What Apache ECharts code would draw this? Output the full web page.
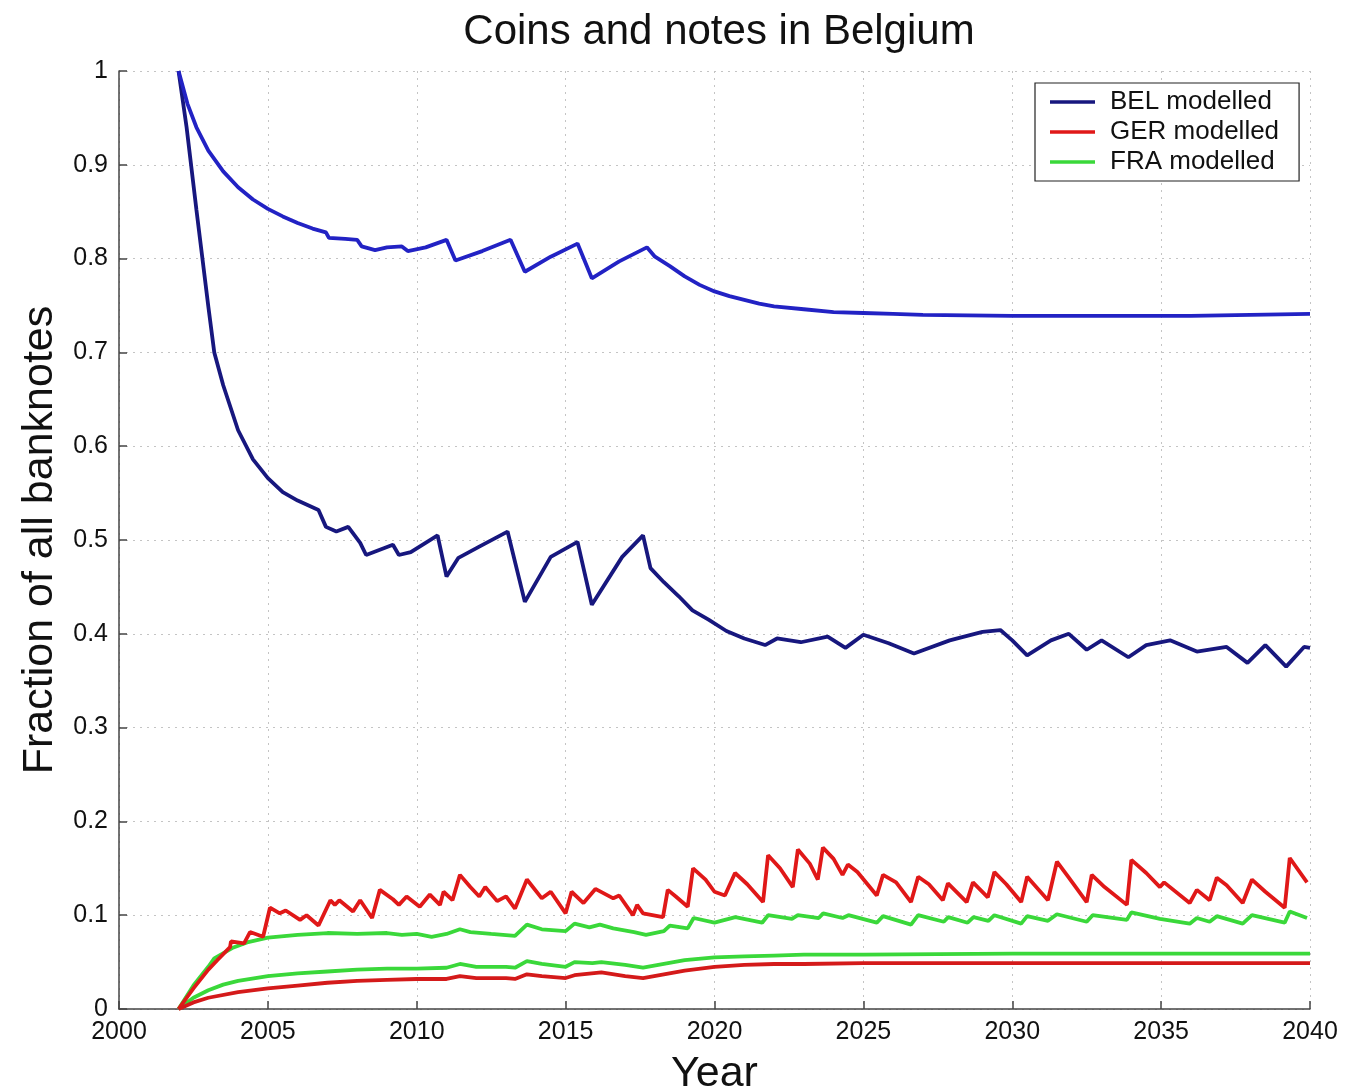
<!DOCTYPE html>
<html>
<head>
<meta charset="utf-8">
<title>Coins and notes in Belgium</title>
<script src="https://cdn.jsdelivr.net/npm/echarts@6/dist/echarts.min.js"></script>
<style>
  html, body { margin: 0; padding: 0; background: #fff; overflow: hidden; }
  #chart { width: 1346px; height: 1091px; }
</style>
</head>
<body>
<div id="chart"></div>
<script>
// Modelled share of each country's notes circulating in Belgium, [year, fraction]
const belUpper = [
  [2002,1.0],[2002.3,0.965],[2002.6,0.94],[2003,0.915],[2003.5,0.893],[2004,0.876],
  [2004.5,0.863],[2005,0.853],[2005.5,0.845],[2006,0.838],[2006.5,0.832],[2006.95,0.828],
  [2007.05,0.822],[2007.6,0.821],[2008.0,0.82],[2008.15,0.813],[2008.6,0.809],[2009.0,0.812],
  [2009.5,0.813],[2009.7,0.808],[2010.3,0.812],[2011.0,0.82],[2011.3,0.798],[2012.2,0.808],
  [2013.15,0.82],[2013.63,0.786],[2014.5,0.802],[2015.4,0.816],[2015.88,0.779],[2016.8,0.797],
  [2017.73,0.812],[2018.0,0.802],[2018.5,0.792],[2019,0.781],[2019.5,0.772],[2020,0.765],
  [2020.5,0.76],[2021,0.756],[2021.5,0.752],[2022,0.749],[2023,0.746],[2024,0.743],
  [2025,0.742],[2026,0.741],[2027,0.74],[2030,0.739],[2033,0.739],[2036,0.739],
  [2038,0.74],[2040,0.741]
];
const belLower = [
  [2002,1.0],[2002.27,0.94],[2002.6,0.852],[2003,0.749],[2003.2,0.70],[2003.5,0.665],
  [2004,0.617],[2004.5,0.586],[2005,0.566],[2005.5,0.551],[2006,0.542],[2006.7,0.532],
  [2006.95,0.514],[2007.3,0.509],[2007.7,0.514],[2008.1,0.497],[2008.3,0.484],[2009.2,0.495],
  [2009.4,0.484],[2009.8,0.487],[2010.7,0.505],[2011.0,0.461],[2011.4,0.481],[2012.1,0.493],
  [2013.05,0.509],[2013.63,0.434],[2014.5,0.482],[2015.4,0.498],[2015.88,0.431],[2016.9,0.482],
  [2017.6,0.505],[2017.85,0.47],[2018.3,0.455],[2018.8,0.44],[2019.26,0.425],[2019.8,0.415],
  [2020.4,0.403],[2021.0,0.395],[2021.7,0.388],[2022.1,0.395],[2022.9,0.391],[2023.8,0.397],
  [2024.4,0.385],[2025.0,0.399],[2025.85,0.39],[2026.7,0.379],[2027.9,0.393],[2029.0,0.402],
  [2029.6,0.404],[2030.0,0.393],[2030.5,0.377],[2031.3,0.393],[2031.9,0.4],[2032.5,0.383],
  [2033.0,0.393],[2033.9,0.375],[2034.5,0.388],[2035.3,0.393],[2036.2,0.381],[2037.2,0.386],
  [2037.9,0.369],[2038.5,0.388],[2039.2,0.365],[2039.8,0.386],[2040,0.385]
];
const gerUpper = [
  [2002,0],[2002.5,0.022],[2003,0.042],[2003.3,0.052],[2003.73,0.066],[2003.76,0.072],
  [2004.2,0.070],[2004.4,0.082],[2004.84,0.077],[2005.07,0.108],[2005.4,0.102],[2005.6,0.105],
  [2006.08,0.095],[2006.3,0.1],[2006.7,0.089],[2007.1,0.116],[2007.25,0.111],[2007.4,0.116],
  [2007.86,0.104],[2008.1,0.116],[2008.5,0.097],[2008.76,0.127],[2009.2,0.117],[2009.4,0.111],
  [2009.66,0.12],[2010.1,0.109],[2010.44,0.122],[2010.78,0.111],[2010.9,0.125],[2011.2,0.116],
  [2011.45,0.143],[2011.8,0.13],[2012.1,0.12],[2012.3,0.13],[2012.7,0.115],[2013.0,0.12],
  [2013.3,0.107],[2013.7,0.138],[2014.2,0.118],[2014.5,0.125],[2015.0,0.102],[2015.2,0.125],
  [2015.6,0.113],[2016.0,0.128],[2016.6,0.118],[2016.8,0.121],[2017.26,0.1],[2017.4,0.111],
  [2017.6,0.102],[2018.27,0.098],[2018.43,0.127],[2018.7,0.12],[2019.1,0.109],[2019.28,0.15],
  [2019.7,0.138],[2020.0,0.125],[2020.35,0.121],[2020.69,0.145],[2021.1,0.133],[2021.63,0.114],
  [2021.8,0.164],[2022.2,0.15],[2022.63,0.13],[2022.8,0.17],[2023.2,0.155],[2023.47,0.138],
  [2023.64,0.172],[2024.0,0.16],[2024.3,0.143],[2024.48,0.154],[2024.8,0.146],[2025.45,0.121],
  [2025.66,0.143],[2026.1,0.135],[2026.6,0.114],[2026.84,0.141],[2027.2,0.133],[2027.67,0.116],
  [2027.84,0.134],[2028.47,0.114],[2028.68,0.135],[2029.18,0.119],[2029.4,0.146],[2029.8,0.133],
  [2030.3,0.114],[2030.5,0.141],[2031.2,0.116],[2031.5,0.157],[2031.9,0.14],[2032.5,0.114],
  [2032.67,0.143],[2033.1,0.13],[2033.85,0.111],[2034.0,0.159],[2034.5,0.145],[2034.96,0.13],
  [2035.1,0.135],[2035.96,0.113],[2036.2,0.127],[2036.63,0.116],[2036.87,0.14],[2037.2,0.132],
  [2037.74,0.113],[2038.05,0.138],[2038.5,0.125],[2039.15,0.108],[2039.32,0.161],[2039.9,0.135]
];
const gerLower = [
  [2002,0],[2002.5,0.007],[2003,0.012],[2004,0.018],[2005,0.022],[2006,0.025],[2007,0.028],
  [2008,0.03],[2009,0.031],[2010,0.032],[2011,0.032],[2011.45,0.035],[2012,0.033],[2013,0.033],
  [2013.3,0.032],[2013.7,0.037],[2014.2,0.035],[2015,0.033],[2015.3,0.036],[2016.2,0.039],
  [2017,0.035],[2017.6,0.033],[2018.3,0.037],[2019,0.041],[2020,0.045],[2021,0.047],
  [2022,0.048],[2023,0.048],[2025,0.049],[2030,0.049],[2035,0.049],[2040,0.049]
];
const fraUpper = [
  [2002,0],[2002.5,0.025],[2003,0.045],[2003.2,0.054],[2003.8,0.065],[2004.3,0.071],[2005,0.076],
  [2006,0.079],[2007,0.081],[2008,0.08],[2009,0.081],[2009.5,0.079],[2010,0.08],[2010.5,0.077],
  [2011,0.08],[2011.45,0.085],[2011.8,0.082],[2012.5,0.08],[2013.3,0.078],[2013.7,0.09],
  [2014.2,0.085],[2015,0.083],[2015.3,0.091],[2015.8,0.087],[2016.15,0.09],[2016.6,0.086],
  [2017.3,0.082],[2017.7,0.079],[2018.3,0.083],[2018.5,0.089],[2019.1,0.086],[2019.3,0.097],
  [2020,0.092],[2020.7,0.098],[2021.6,0.092],[2021.8,0.1],[2022.6,0.096],[2022.8,0.1],
  [2023.5,0.097],[2023.65,0.102],[2024.3,0.097],[2024.5,0.1],[2025.45,0.092],[2025.66,0.099],
  [2026.6,0.09],[2026.84,0.1],[2027.7,0.093],[2027.85,0.098],[2028.5,0.092],[2028.7,0.098],
  [2029.2,0.094],[2029.4,0.1],[2030.3,0.091],[2030.5,0.099],[2031.2,0.094],[2031.5,0.101],
  [2032.5,0.093],[2032.7,0.1],[2033.85,0.095],[2034.0,0.103],[2034.96,0.096],[2035.96,0.091],
  [2036.2,0.097],[2036.63,0.093],[2036.87,0.099],[2037.74,0.091],[2038.05,0.1],[2039.15,0.092],
  [2039.32,0.104],[2039.9,0.097]
];
const fraLower = [
  [2002,0],[2002.5,0.012],[2003,0.02],[2003.5,0.026],[2004,0.03],[2005,0.035],[2006,0.038],
  [2007,0.04],[2008,0.042],[2009,0.043],[2010,0.043],[2011,0.044],[2011.45,0.048],[2012,0.045],
  [2013,0.045],[2013.3,0.044],[2013.7,0.051],[2014.2,0.048],[2015,0.045],[2015.3,0.05],
  [2015.9,0.049],[2016.2,0.05],[2017,0.047],[2017.6,0.044],[2018.3,0.048],[2019,0.052],
  [2020,0.055],[2021,0.056],[2022,0.057],[2023,0.058],[2025,0.058],[2030,0.059],[2035,0.059],
  [2040,0.059]
];

const seriesNames = ['BEL modelled', 'GER modelled', 'FRA modelled'];
const xTicks = { min: 2000, max: 2040, step: 5 };
const yTicks = { min: 0, max: 1, step: 0.1 };

const FONT = '"Liberation Sans", Arial, Helvetica, sans-serif';

function line(name, data, color, width, z) {
  return {
    name: name,
    type: 'line',
    data: data,
    symbol: 'none',
    smooth: false,
    z: z,
    lineStyle: { color: color, width: width },
    itemStyle: { color: color }
  };
}

const chart = echarts.init(document.getElementById('chart'), null, { renderer: 'canvas' });

const gridStyle = { color: '#c4c4c4', width: 1, type: [2, 5] };

chart.setOption({
  backgroundColor: '#ffffff',
  animation: false,
  title: {
    text: 'Coins and notes in Belgium',
    left: 714, top: 6, textAlign: 'center',
    textStyle: { fontFamily: FONT, fontSize: 42, fontWeight: 'normal', color: '#111' }
  },
  legend: {
    data: seriesNames,
    orient: 'vertical',
    left: 1035, top: 83,
    padding: [6, 20, 6, 15],
    itemWidth: 45, itemHeight: 22, itemGap: 4,
    icon: 'path://M0,0 L45,0 L45,3.5 L0,3.5 Z',
    backgroundColor: '#fff',
    borderColor: '#222', borderWidth: 1.2,
    textStyle: { fontFamily: FONT, fontSize: 26, lineHeight: 22, color: '#111', padding: [0, 0, 0, 10] }
  },
  grid: { left: 119, right: 36, top: 71, bottom: 82, containLabel: false, outerBoundsMode: 'none' },
  xAxis: {
    type: 'value',
    min: xTicks.min, max: xTicks.max, interval: xTicks.step,
    name: 'Year', nameLocation: 'middle', nameGap: 44,
    nameTextStyle: { fontFamily: FONT, fontSize: 43, color: '#111' },
    axisLine: { show: true, lineStyle: { color: '#444', width: 1.5 } },
    axisTick: { show: true, inside: true, length: 8, lineStyle: { color: '#444', width: 1.5 } },
    axisLabel: { fontFamily: FONT, fontSize: 25, color: '#111', margin: 11,
                 formatter: v => String(v) },
    splitLine: { show: true, lineStyle: gridStyle }
  },
  yAxis: {
    type: 'value',
    min: yTicks.min, max: yTicks.max, interval: yTicks.step,
    name: 'Fraction of all banknotes', nameLocation: 'middle', nameGap: 57,
    nameTextStyle: { fontFamily: FONT, fontSize: 43, color: '#111' },
    axisLine: { show: true, lineStyle: { color: '#444', width: 1.5 } },
    axisTick: { show: true, inside: true, length: 8, lineStyle: { color: '#444', width: 1.5 } },
    axisLabel: { fontFamily: FONT, fontSize: 25, color: '#111', margin: 11,
                 formatter: v => String(Math.round(v * 10) / 10) },
    splitLine: { show: true, lineStyle: gridStyle }
  },
  series: [
    line(seriesNames[0], belLower, '#17177e', 3.8, 5),
    line(seriesNames[0], belUpper, '#2222c4', 3.8, 5),
    line(seriesNames[1], gerUpper, '#e01818', 3.8, 4),
    line(seriesNames[1], gerLower, '#d41a1a', 3.8, 4),
    line(seriesNames[2], fraUpper, '#3ad83a', 3.8, 3),
    line(seriesNames[2], fraLower, '#3ad83a', 3.8, 3)
  ]
});
</script>
</body>
</html>
